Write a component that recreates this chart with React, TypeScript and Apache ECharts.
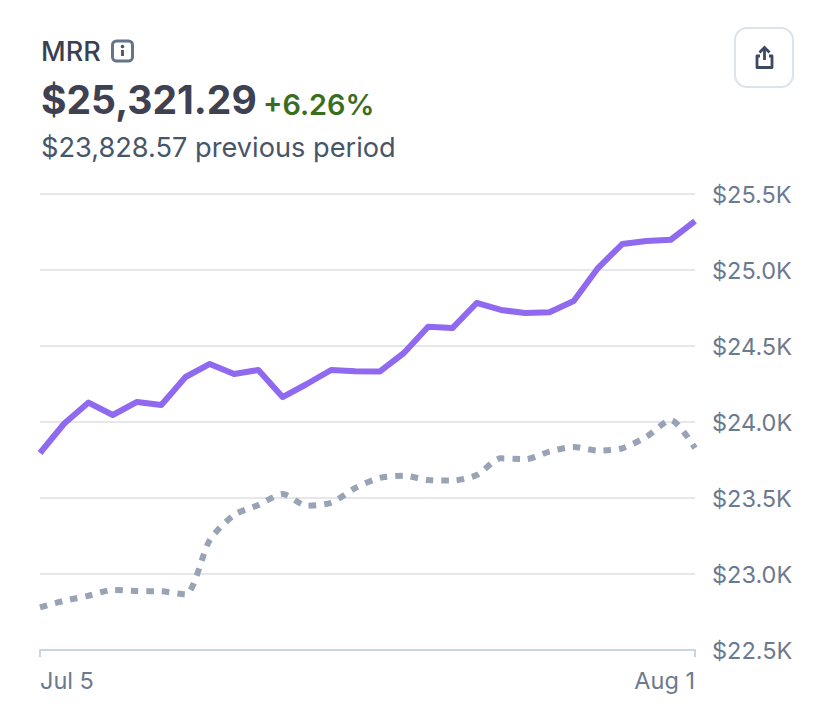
import React, { useEffect, useRef } from "react";
import * as echarts from "echarts";

const dates = [
  "Jul 5","Jul 6","Jul 7","Jul 8","Jul 9","Jul 10","Jul 11","Jul 12","Jul 13","Jul 14",
  "Jul 15","Jul 16","Jul 17","Jul 18","Jul 19","Jul 20","Jul 21","Jul 22","Jul 23","Jul 24",
  "Jul 25","Jul 26","Jul 27","Jul 28","Jul 29","Jul 30","Jul 31","Aug 1",
];
const currentPeriod = [
  23796,23990,24128,24046,24132,24112,24296,24382,24316,24342,
  24164,24250,24342,24334,24332,24454,24627,24618,24783,24737,
  24717,24722,24796,25013,25171,25191,25199,25321.29,
];
const previousPeriod = [
  22781,22824,22857,22895,22888,22886,22866,23224,23388,23454,
  23526,23449,23469,23566,23632,23647,23618,23615,23651,23761,
  23755,23805,23836,23811,23827,23903,24013,23828.57,
];
const titleText = "MRR";
const valueText = "$25,321.29";
const changeText = "+6.26%";
const previousText = "$23,828.57 previous period";

const FONT = "Inter";

export default function App() {
  const ref = useRef<HTMLDivElement>(null);
  useEffect(() => {
    document.body.style.margin = "0";
    const chart = echarts.init(ref.current!, undefined, { renderer: "svg" });
    chart.setOption({
      animation: false,
      backgroundColor: "#ffffff",
      grid: { left: 40, right: 131, top: 194, bottom: 72, containLabel: false },
      xAxis: {
        type: "category",
        data: dates,
        boundaryGap: false,
        axisLine: { show: true, lineStyle: { color: "#cbd5e1", width: 2 } },
        axisTick: {
          show: true,
          length: 7,
          alignWithLabel: true,
          interval: (i: number) => i === 0 || i === dates.length - 1,
          lineStyle: { color: "#cbd5e1", width: 2 },
        },
        axisLabel: {
          show: true,
          interval: (i: number) => i === 0 || i === dates.length - 1,
          alignMinLabel: "left",
          alignMaxLabel: "right",
          color: "#6b7a90",
          fontFamily: FONT,
          fontSize: 23.5,
          margin: 18,
        },
        splitLine: { show: false },
      },
      yAxis: {
        type: "value",
        position: "right",
        min: 22500,
        max: 25500,
        interval: 500,
        axisLine: { show: false },
        axisTick: { show: false },
        axisLabel: {
          color: "#6b7a90",
          fontFamily: FONT,
          fontSize: 23.5,
          margin: 17,
          padding: [0, 0, 2, 0],
          formatter: (v: number) => "$" + (v / 1000).toFixed(1) + "K",
        },
        splitLine: { show: true, lineStyle: { color: "#e5e7eb", width: 2 } },
      },
      series: [
        {
          name: "Previous period",
          type: "line",
          data: previousPeriod,
          showSymbol: false,
          smooth: 0.25,
          lineStyle: { color: "#98a3b5", width: 6, type: [7.5, 8] },
          z: 2,
        },
        {
          name: "Current period",
          type: "line",
          data: currentPeriod,
          showSymbol: false,
          smooth: false,
          lineStyle: { color: "#8f6af0", width: 6, join: "round" },
          z: 3,
        },
      ],
      graphic: [
        { type: "text", x: 41, y: 51, style: { text: titleText, fontFamily: FONT, fontSize: 27, fontWeight: 500, fill: "#374151", textVerticalAlign: "middle" } },
        { type: "rect", x: 112.5, y: 41, shape: { width: 20, height: 20, r: 4 }, style: { fill: "none", stroke: "#64748b", lineWidth: 3 } },
        { type: "circle", x: 122.5, y: 46.5, shape: { r: 1.8 }, style: { fill: "#475569" } },
        { type: "line", shape: { x1: 122.5, y1: 50, x2: 122.5, y2: 56 }, style: { stroke: "#475569", lineWidth: 2.8 } },
        { type: "text", x: 41, y: 99, style: { text: valueText, fontFamily: FONT, fontSize: 39, fontWeight: 700, fill: "#3d4152", textVerticalAlign: "middle" } },
        { type: "text", x: 263, y: 104, style: { text: changeText, fontFamily: FONT, fontSize: 28.8, fontWeight: 600, fill: "#3a6e1f", textVerticalAlign: "middle" } },
        { type: "text", x: 41, y: 147, style: { text: previousText, fontFamily: FONT, fontSize: 27.2, fontWeight: 400, fill: "#475569", textVerticalAlign: "middle" } },
        { type: "rect", x: 735, y: 28, shape: { width: 58, height: 59, r: 12 }, style: { fill: "#ffffff", stroke: "#dde3ea", lineWidth: 2 } },
        { type: "polyline", shape: { points: [[759.5, 52.5], [764.5, 47.5], [769.5, 52.5]] }, style: { fill: "none", stroke: "#3b4a60", lineWidth: 2.8 } },
        { type: "line", shape: { x1: 764.5, y1: 48, x2: 764.5, y2: 60 }, style: { stroke: "#3b4a60", lineWidth: 2.8 } },
        { type: "polyline", shape: { points: [[760, 56], [757, 56], [757, 67.5], [772, 67.5], [772, 56], [769, 56]] }, style: { fill: "none", stroke: "#3b4a60", lineWidth: 2.8, lineJoin: "round" } },
      ],
    });
    return () => chart.dispose();
  }, []);
  return <div ref={ref} style={{ position: "absolute", left: 0, top: 0, width: 826, height: 722 }} />;
}
